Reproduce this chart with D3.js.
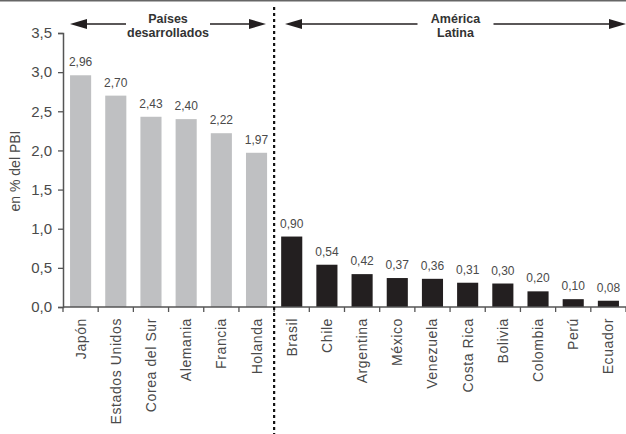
<!DOCTYPE html>
<html><head><meta charset="utf-8">
<script src="https://cdn.jsdelivr.net/npm/d3@7"></script>
<style>body{margin:0;background:#fff}svg{display:block}text{font-family:"Liberation Sans",Arial,sans-serif}</style>
</head><body>
<script>
const categories = ["Japón","Estados Unidos","Corea del Sur","Alemania","Francia","Holanda","Brasil","Chile","Argentina","México","Venezuela","Costa Rica","Bolivia","Colombia","Perú","Ecuador"];
const values = [2.96,2.70,2.43,2.40,2.22,1.97,0.90,0.54,0.42,0.37,0.36,0.31,0.30,0.20,0.10,0.08];
const groups = ["dev","dev","dev","dev","dev","dev","la","la","la","la","la","la","la","la","la","la"];
const yTicks = [0,0.5,1,1.5,2,2.5,3,3.5];
const groupLabels = [["Países","desarrollados"],["América","Latina"]];

const W=626,H=434;
const svg=d3.select("body").append("svg").attr("width",W).attr("height",H);
const x=d3.scaleBand().domain(categories).range([63,626]).paddingInner(0.4).paddingOuter(0.2);
const y=d3.scaleLinear().domain([0,3.5]).range([307,33]);
const fmt=d=>d.toFixed(1).replace(".",",");
const fmt2=d=>d.toFixed(2).replace(".",",");
const txt="#4a4a4a";

// top border
svg.append("line").attr("x1",0).attr("x2",W).attr("y1",0.75).attr("y2",0.75).attr("stroke","#666").attr("stroke-width",1.5);

// bars
svg.selectAll("rect.bar").data(categories).join("rect")
  .attr("x",d=>x(d)).attr("width",x.bandwidth())
  .attr("y",(d,i)=>y(values[i])).attr("height",(d,i)=>y(0)-y(values[i]))
  .attr("fill",(d,i)=>groups[i]==="dev"?"#bfc0c2":"#231f20");

// value labels
svg.selectAll("text.val").data(categories).join("text")
  .attr("x",d=>x(d)+x.bandwidth()/2).attr("y",(d,i)=>y(values[i])-9)
  .attr("text-anchor","middle").attr("font-size",12).attr("fill",txt)
  .text((d,i)=>fmt2(values[i]));

// y axis
const ya=svg.append("g").attr("transform","translate(63,0)")
  .call(d3.axisLeft(y).tickValues(yTicks).tickFormat(fmt).tickSize(5).tickPadding(6));
ya.select(".domain").attr("stroke","#555").attr("stroke-width",1.5);
ya.selectAll(".tick line").attr("stroke","#555").attr("stroke-width",1.3);
ya.selectAll(".tick text").attr("font-size",15).attr("fill",txt).style("font-family","Liberation Sans, Arial, sans-serif");

// x axis with ticks at band boundaries
const xa=svg.append("g").attr("transform","translate(0,307)");
xa.append("line").attr("x1",63).attr("x2",626).attr("stroke","#555").attr("stroke-width",1.5);
const step=x.step();
const start=x(categories[0])-x.paddingOuter()*step;
const bounds=d3.range(categories.length+1).map(i=>start+i*step);
xa.selectAll("line.tk").data(bounds).join("line").attr("class","tk")
  .attr("x1",d=>d).attr("x2",d=>d).attr("y1",0).attr("y2",5).attr("stroke","#555").attr("stroke-width",1.3);
xa.selectAll("text.cat").data(categories).join("text")
  .attr("transform",d=>`translate(${x(d)+x.bandwidth()/2+5},11) rotate(-90)`)
  .attr("text-anchor","end").attr("font-size",14).attr("fill",txt).attr("letter-spacing",0.6)
  .text(d=>d);

// y title
svg.append("text").attr("transform","translate(20,171) rotate(-90)").attr("text-anchor","middle")
  .attr("font-size",14).attr("fill",txt).text("en % del PBI");

// dotted separator
const sepX=x(categories[6])-(x.paddingInner()*step)/2;
svg.append("line").attr("x1",sepX).attr("x2",sepX).attr("y1",7).attr("y2",H)
  .attr("stroke","#111").attr("stroke-width",2.2).attr("stroke-dasharray","3,3");

// arrows
function arrowHead(tipX,yy,dir){
  svg.append("path").attr("d",`M${tipX},${yy} L${tipX-dir*17},${yy-5} L${tipX-dir*17},${yy+5} Z`).attr("fill","#231f20");
}
const ay=24;
function groupArrow(x0,x1,lbl,gap){
  const cx=(x0+x1)/2;
  svg.append("line").attr("x1",x0+10).attr("x2",cx-gap).attr("y1",ay).attr("y2",ay).attr("stroke","#231f20").attr("stroke-width",1.3);
  svg.append("line").attr("x1",cx+gap).attr("x2",x1-10).attr("y1",ay).attr("y2",ay).attr("stroke","#231f20").attr("stroke-width",1.3);
  arrowHead(x0,ay,-1); arrowHead(x1,ay,1);
  const t=svg.append("text").attr("text-anchor","middle").attr("font-size",12.5).attr("font-weight","bold").attr("fill","#333");
  t.append("tspan").attr("x",cx).attr("y",ay-1).text(lbl[0]);
  t.append("tspan").attr("x",cx).attr("y",ay+13).text(lbl[1]);
}
groupArrow(70,266,groupLabels[0],42);
groupArrow(285,626,groupLabels[1],38);
</script>
</body></html>
